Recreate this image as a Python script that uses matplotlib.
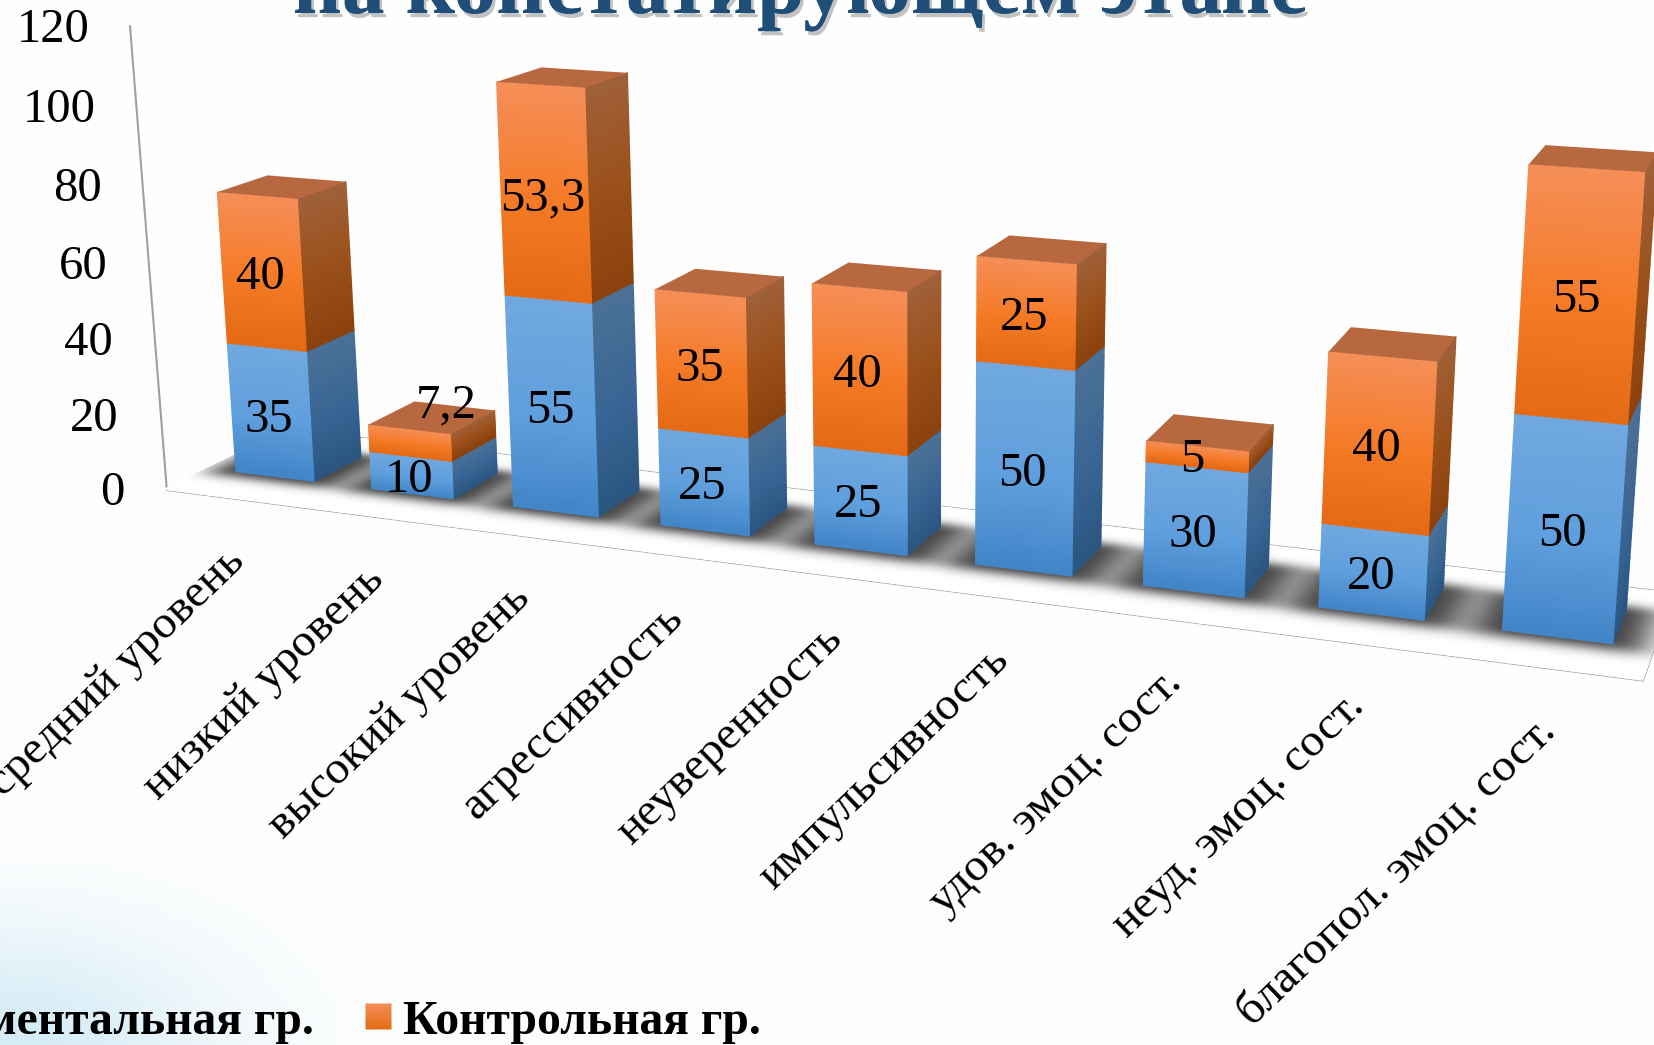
import numpy as np
import matplotlib
matplotlib.use('Agg')
import matplotlib.pyplot as plt
import matplotlib.patheffects as pe
from matplotlib.colors import LinearSegmentedColormap, to_rgb
from math import erf

categories = ['средний уровень','низкий уровень','высокий уровень','агрессивность','неуверенность',
              'импульсивность','удов. эмоц. сост.','неуд. эмоц. сост.','благопол. эмоц. сост.']
exper = [35,10,55,25,25,50,30,20,50]
control = [40,7.2,53.3,35,40,25,5,40,55]
yticks = [0,20,40,60,80,100,120]

# perspective camera of the 3-D chart: (category, depth, value) -> picture pixels
P = np.array([[131.26862531011, 143.73817621363048, -0.33046080208551765, 164.10317743972237],
              [7.535973058303087, -29.24352359392436, -3.8689415973800676, 489.3473181904782],
              [-0.02010462143568516, 0.07089730985079465, -0.00035696752998931293, 1.0]])
BW, Y0, Y1 = 0.58, 0.34, 0.74

def proj(X, Y, Z):
    h = P @ np.array([X, Y, Z, 1.0])
    return h[:2] / h[2]
def proj_grid(X, Y, Z):
    X, Y, Z = np.broadcast_arrays(X, Y, Z)
    h = P @ np.stack([X.ravel(), Y.ravel(), Z.ravel(), np.ones(X.size)])
    return (h[0]/h[2]).reshape(X.shape), (h[1]/h[2]).reshape(X.shape)

plt.rcParams['font.family'] = ['Liberation Serif', 'DejaVu Serif']
fig = plt.figure(figsize=(16.54, 10.45), dpi=100)
ax = fig.add_axes([0, 0, 1, 1]); ax.axis('off')

yy, xx = np.mgrid[0:1045:200j, 0:1654:300j]
a = np.exp(-(np.hypot(xx/220, (1045-yy)/120))**2)[..., None]
bg = (1-a)*np.array(to_rgb('#fefefe')) + a*np.array(to_rgb('#d5ecf6'))
ax.imshow(bg, extent=(0, 1654, 1045, 0), aspect='auto', zorder=0)

# floor and wall edge
X0 = 0.02
fl = [proj(X0,0,0), proj(9,0,0), proj(9,1,0), proj(X0,1,0)]
ax.add_patch(plt.Polygon(fl, closed=True, fc='white', ec='#a0a0a0', lw=1.8, zorder=1))
ax.plot(*zip(proj(X0,0,0), proj(0,0,120)), color='#a0a0a0', lw=1.5, zorder=1)

# soft shadow on the floor
ee = np.vectorize(erf)
gx = np.linspace(0, 9, 500); gy = np.linspace(0, 1, 90)
fy = 0.5*(ee((gy-(Y0-.07))/.08) - ee((gy-(Y1+.05))/.07))
fx = np.zeros_like(gx)
for i in range(9):
    fx += 0.5*(ee((gx-(i+.5-BW/2-.17))/.13) - ee((gx-(i+.5+BW/2+.17))/.13))
S = np.outer(fy, np.clip(fx, 0, 1))
GX, GY = np.meshgrid(gx, gy)
qx, qy = proj_grid(GX, GY, 0.0)
cm = LinearSegmentedColormap.from_list('s', ['#ffffff', '#c8c8c8', '#8c8c8c', '#454545'])
ax.pcolormesh(qx, qy, S, cmap=cm, vmin=0, vmax=1, shading='gouraud', zorder=2)

def ramp(name, stops):
    return LinearSegmentedColormap.from_list(name, [(0, stops[0]), (.55, stops[1]), (1, stops[2])])
OR = dict(front=ramp('of', ['#F58F58','#F57A26','#E56A15']), side=ramp('os', ['#A0613A','#9A4F18','#8C420E']))
BL = dict(front=ramp('bf', ['#71A8DF','#5F9FDD','#4285C8']), side=ramp('bs', ['#4C7196','#386594','#2A5680']))
TOP = '#B7683F'

def face(p, q, z0, z1, cmap):
    zs = np.linspace(z1, z0, 21)
    A = np.array([p[0], q[0]]); B = np.array([p[1], q[1]])
    AA, ZZ = np.meshgrid(A, zs); BB, _ = np.meshgrid(B, zs)
    mx, my = proj_grid(AA, BB, ZZ)
    tt = np.linspace(0, 1, 21)[:, None] * np.ones((1, 2))
    ax.pcolormesh(mx, my, tt, cmap=cmap, vmin=0, vmax=1, shading='gouraud', zorder=5)

for i in range(9):
    l = i+.5-BW/2; r = i+.5+BW/2
    e, c = exper[i], control[i]
    for z0, z1, st in ((0, e, BL), (e, e+c, OR)):
        face((r, Y0), (r, Y1), z0, z1, st['side'])
        face((l, Y0), (r, Y0), z0, z1, st['front'])
    ax.add_patch(plt.Polygon([proj(l,Y0,e+c), proj(r,Y0,e+c), proj(r,Y1,e+c), proj(l,Y1,e+c)],
                             fc=TOP, ec='none', zorder=5))

off = {(1,1): (38,-42), (6,1): (-3,-2), (0,0): (0,3)}
fmt = lambda v: str(v).replace('.', ',')
for i in range(9):
    for s, (z0, v) in enumerate(((0, exper[i]), (exper[i], control[i]))):
        p = proj(i+.5, Y0, z0+v/2)
        o = off.get((i, s), (0, 0))
        ax.text(p[0]+o[0]-2, p[1]+o[1], fmt(v), fontsize=35, ha='center', va='center_baseline', color='black', zorder=8)
for v in yticks:
    p = proj(0, 0, v)
    ax.text(p[0]-40, p[1]-1, str(v), fontsize=35, ha='right', va='center_baseline', color='black', zorder=8)
for i, lab in enumerate(categories):
    p = proj(i+.5, 0, 0)
    ax.text(p[0]-9, p[1]+42, lab, fontsize=34, rotation=44, ha='right', va='top', rotation_mode='anchor', color='black', zorder=8)

ax.text(800, 13, 'на констатирующем этапе', fontsize=61.3, fontweight='bold', ha='center', va='baseline', color='#1F4E79', zorder=9,
        path_effects=[pe.withSimplePatchShadow(offset=(2,-3), shadow_rgbFace='#888888', alpha=.5), pe.Normal()])
ax.text(314, 1034, 'Экспериментальная гр.', fontsize=34.3, fontweight='bold', ha='right', va='baseline', zorder=9)
ax.text(403, 1034, 'Контрольная гр.', fontsize=34.3, fontweight='bold', ha='left', va='baseline', zorder=9)
ax.pcolormesh(np.array([366, 391]), np.array([1004, 1029]), np.array([[0,0],[1,1]]), cmap=OR['front'], vmin=0, vmax=1, shading='gouraud', zorder=9)
ax.set_xlim(0, 1654); ax.set_ylim(1045, 0)
fig.savefig('out.png', dpi=100)
